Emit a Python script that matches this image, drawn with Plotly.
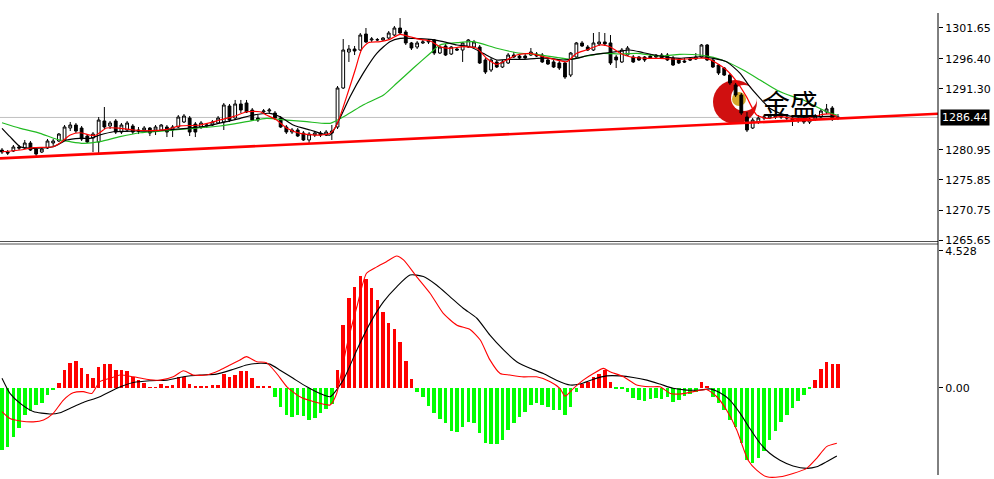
import plotly.graph_objects as go

# ---------------- data ----------------
N_BARS = 148
BARS = list(range(N_BARS))

OPEN = [1280.92, 1280.58, 1280.75, 1281.43, 1281.26, 1282.11, 1281.09, 1280.58, 1281.26, 1282.11,
        1282.45, 1282.62, 1284.65, 1285.16, 1284.65, 1283.29, 1282.95, 1282.28, 1285.84, 1284.99,
        1285.84, 1283.97, 1284.31, 1284.99, 1284.31, 1284.31, 1284.65, 1284.31, 1284.31, 1284.82,
        1284.31, 1284.82, 1285.67, 1286.34, 1285.33, 1284.82, 1284.99, 1285.16, 1285.50, 1285.67,
        1288.38, 1286.34, 1288.72, 1288.89, 1287.70, 1286.34, 1287.36, 1287.53, 1287.19, 1286.34,
        1284.82, 1283.97, 1284.31, 1283.80, 1282.62, 1283.46, 1283.80, 1283.46, 1283.80, 1284.82,
        1291.43, 1297.53, 1298.04, 1297.87, 1300.58, 1299.57, 1299.57, 1299.57, 1299.90, 1300.41,
        1301.60, 1300.92, 1299.06, 1298.38, 1299.06, 1299.23, 1299.57, 1297.36, 1298.55, 1297.19,
        1298.04, 1297.87, 1298.38, 1298.38, 1298.38, 1296.18, 1294.48, 1295.84, 1294.99, 1295.67,
        1297.02, 1296.85, 1296.85, 1297.02, 1297.19, 1297.02, 1296.18, 1295.84, 1295.67, 1295.67,
        1293.63, 1296.68, 1299.06, 1298.38, 1297.87, 1298.89, 1299.23, 1299.06, 1296.68, 1295.84,
        1297.02, 1296.68, 1296.68, 1296.68, 1296.85, 1297.02, 1297.02, 1297.02, 1296.51, 1296.18,
        1296.01, 1296.34, 1296.34, 1296.68, 1298.72, 1296.18, 1295.33, 1294.82, 1293.63, 1291.94,
        1290.24, 1286.51, 1284.65, 1285.67, 1286.34, 1286.34, 1286.51, 1286.51, 1286.51, 1286.34,
        1286.00, 1286.17, 1285.67, 1286.17, 1286.51, 1287.36, 1288.04, 1286.51]

CLOSE = [1280.58, 1280.41, 1281.43, 1281.26, 1282.11, 1280.92, 1280.24, 1281.09, 1282.45, 1282.45,
         1283.63, 1284.82, 1285.16, 1284.14, 1282.79, 1282.28, 1283.63, 1286.00, 1284.82, 1285.50,
         1283.97, 1285.16, 1285.50, 1283.97, 1284.14, 1284.65, 1283.80, 1284.82, 1285.16, 1283.97,
         1284.82, 1286.51, 1286.68, 1283.97, 1283.97, 1285.50, 1285.16, 1285.67, 1286.34, 1288.55,
         1286.00, 1288.72, 1287.70, 1287.36, 1286.00, 1286.00, 1287.53, 1287.70, 1286.34, 1284.82,
         1283.97, 1284.31, 1283.29, 1282.62, 1283.63, 1283.80, 1283.46, 1283.97, 1284.14, 1291.43,
         1297.87, 1298.04, 1297.70, 1300.41, 1299.23, 1299.73, 1299.62, 1299.90, 1300.75, 1301.60,
         1300.75, 1299.06, 1298.21, 1299.06, 1299.23, 1299.40, 1297.36, 1298.38, 1297.02, 1298.38,
         1297.87, 1299.06, 1299.57, 1299.23, 1295.67, 1294.14, 1296.18, 1294.99, 1295.84, 1297.02,
         1296.68, 1296.51, 1296.51, 1297.53, 1296.85, 1295.84, 1295.50, 1294.99, 1294.82, 1293.29,
         1297.36, 1299.06, 1298.55, 1297.87, 1299.06, 1299.23, 1298.89, 1295.67, 1296.18, 1297.87,
         1298.21, 1295.84, 1296.18, 1296.18, 1296.51, 1296.68, 1296.51, 1296.18, 1295.33, 1295.67,
         1295.84, 1296.18, 1296.68, 1298.72, 1296.18, 1294.99, 1293.97, 1293.63, 1292.28, 1290.24,
         1287.19, 1284.31, 1286.00, 1286.34, 1286.51, 1286.68, 1286.68, 1286.55, 1286.34, 1285.84,
         1286.17, 1285.67, 1286.17, 1286.68, 1287.53, 1287.87, 1286.17, 1286.44]

HIGH = [1281.26, 1280.92, 1281.77, 1281.77, 1282.62, 1282.45, 1281.43, 1281.43, 1282.79, 1282.79,
        1283.80, 1285.16, 1285.67, 1285.50, 1284.99, 1283.63, 1283.97, 1286.51, 1288.21, 1285.84,
        1286.17, 1285.50, 1285.84, 1285.33, 1284.82, 1284.99, 1284.82, 1285.16, 1285.33, 1285.16,
        1285.16, 1286.85, 1287.02, 1286.68, 1285.67, 1285.84, 1285.50, 1286.00, 1286.68, 1288.89,
        1288.72, 1289.40, 1289.40, 1289.40, 1288.04, 1286.85, 1287.87, 1288.04, 1287.53, 1286.68,
        1285.16, 1284.65, 1284.65, 1284.14, 1283.97, 1284.14, 1284.14, 1284.31, 1285.16, 1291.77,
        1299.73, 1298.72, 1298.55, 1300.75, 1301.60, 1300.07, 1299.90, 1300.07, 1301.09, 1301.94,
        1303.29, 1301.26, 1299.23, 1299.40, 1299.57, 1299.73, 1299.73, 1298.72, 1298.89, 1298.55,
        1298.21, 1299.23, 1299.73, 1299.57, 1298.72, 1296.51, 1296.51, 1296.18, 1296.18, 1297.36,
        1297.53, 1297.19, 1297.19, 1298.21, 1297.53, 1297.36, 1296.51, 1296.18, 1296.01, 1295.84,
        1297.53, 1299.23, 1299.40, 1298.72, 1300.75, 1300.92, 1300.75, 1300.41, 1297.02, 1298.21,
        1298.55, 1297.02, 1296.85, 1296.85, 1297.19, 1297.19, 1297.36, 1297.36, 1296.85, 1296.51,
        1296.51, 1296.68, 1297.36, 1298.89, 1298.89, 1296.51, 1295.50, 1294.99, 1293.97, 1292.28,
        1290.58, 1287.36, 1286.34, 1286.85, 1286.85, 1287.02, 1287.02, 1286.85, 1286.85, 1286.68,
        1286.51, 1286.51, 1286.51, 1287.02, 1287.87, 1288.72, 1288.38, 1287.02]

LOW = [1280.24, 1280.07, 1280.58, 1280.92, 1281.09, 1280.75, 1279.73, 1280.41, 1281.09, 1281.60,
       1282.28, 1282.45, 1284.14, 1283.80, 1282.45, 1282.11, 1280.58, 1280.24, 1284.48, 1284.48,
       1283.63, 1283.63, 1283.97, 1283.63, 1283.63, 1284.14, 1283.29, 1283.46, 1284.14, 1283.12,
       1283.12, 1284.65, 1285.50, 1283.29, 1283.12, 1284.48, 1284.65, 1284.99, 1285.33, 1284.31,
       1285.67, 1286.00, 1287.19, 1287.19, 1285.84, 1285.67, 1287.02, 1287.19, 1286.00, 1284.65,
       1283.63, 1283.63, 1283.12, 1282.45, 1282.11, 1283.12, 1283.12, 1283.29, 1282.62, 1284.48,
       1291.26, 1295.84, 1297.02, 1297.70, 1299.06, 1299.23, 1299.40, 1299.40, 1299.73, 1300.24,
       1300.58, 1298.72, 1297.87, 1298.04, 1298.89, 1298.89, 1297.02, 1297.19, 1296.85, 1297.02,
       1297.70, 1295.84, 1298.21, 1298.21, 1295.50, 1293.80, 1294.14, 1294.82, 1294.82, 1295.50,
       1296.51, 1296.18, 1296.34, 1296.85, 1296.68, 1295.67, 1295.33, 1294.82, 1294.48, 1292.96,
       1293.29, 1296.51, 1298.38, 1297.70, 1297.70, 1298.55, 1298.55, 1295.33, 1294.82, 1295.67,
       1296.85, 1295.67, 1296.01, 1295.84, 1296.34, 1296.51, 1296.34, 1296.01, 1295.16, 1295.50,
       1295.67, 1296.01, 1296.18, 1296.51, 1296.01, 1294.82, 1293.63, 1293.46, 1291.94, 1289.90,
       1286.85, 1283.97, 1284.48, 1285.33, 1286.00, 1286.17, 1286.17, 1286.17, 1286.00, 1284.99,
       1285.50, 1285.33, 1285.33, 1285.84, 1286.34, 1287.02, 1285.84, 1286.00]

# moving averages (bar position, price)
MA_FAST_X = [0, 3.2, 5.5, 9.0, 10.2, 12.0, 13.7, 15.5, 16.6, 18.4, 20.8, 23.1, 26.0, 29.0, 31.3, 34.8,
             38.3, 40.7, 43.0, 45.4, 46.5, 48.3, 50.1, 52.4, 55.9, 57.7, 58.85, 60.6, 62.1, 63.25, 64.4,
             66.5, 68.2, 70.0, 71.75, 73.5, 75.3, 77.0, 78.8, 81.1, 83.5, 85.2, 87.0, 88.75, 90.5, 92.85,
             95.2, 97.5, 99.3, 101.05, 102.8, 105.2, 106.9, 108.7, 110.4, 113.4, 115.7, 119.2, 122.15,
             123.9, 125.7, 127.4, 129.2, 130.9, 132.7, 134.5, 136.8, 139.1, 141.5, 143.8, 145.6, 146.8]
MA_FAST_Y = [1280.63, 1280.92, 1281.31, 1281.48, 1282.11, 1283.46, 1283.85, 1283.46, 1283.46, 1284.65,
             1284.60, 1284.31, 1284.19, 1284.43, 1285.00, 1285.16, 1286.00, 1286.57, 1287.41, 1287.41,
             1286.85, 1286.00, 1284.60, 1283.75, 1283.46, 1283.75, 1285.16, 1289.96, 1294.48, 1297.99,
             1299.11, 1299.28, 1299.68, 1300.53, 1300.12, 1299.68, 1299.40, 1298.43, 1298.16, 1298.43,
             1298.16, 1296.46, 1295.45, 1296.18, 1297.02, 1297.31, 1296.73, 1296.18, 1295.89, 1297.31,
             1297.87, 1298.72, 1298.43, 1297.31, 1296.73, 1296.46, 1296.46, 1296.29, 1296.46, 1296.46,
             1295.62, 1294.48, 1292.50, 1289.96, 1286.85, 1286.29, 1286.57, 1286.29, 1286.29, 1286.85,
             1287.02, 1286.57]

MA_MID_X = [0, 1.4, 3.2, 5.5, 9.0, 11.4, 13.7, 15.5, 17.2, 19.6, 23.1, 26.0, 29.0, 32.5, 36.0, 39.5,
            41.9, 44.2, 47.1, 48.9, 51.2, 54.2, 57.7, 59.4, 61.2, 63.5, 65.9, 68.2, 70.0, 72.3, 75.3,
            77.6, 80.0, 82.3, 84.6, 87.0, 89.3, 91.7, 94.0, 96.4, 98.7, 101.05, 103.4, 105.7, 108.1,
            110.4, 112.8, 115.7, 119.2, 122.7, 125.1, 127.4, 129.8, 131.5, 133.3, 135.0, 136.8, 139.1,
            141.5, 143.8, 146.8]
MA_MID_Y = [1284.60, 1283.18, 1281.48, 1281.21, 1281.48, 1282.62, 1282.90, 1282.90, 1283.46, 1284.02,
            1284.14, 1284.14, 1284.31, 1284.60, 1284.99, 1285.72, 1286.29, 1286.85, 1287.14, 1286.57,
            1285.16, 1284.31, 1283.46, 1286.29, 1289.96, 1293.92, 1297.31, 1299.28, 1299.85, 1299.85,
            1299.68, 1299.28, 1298.72, 1298.43, 1297.31, 1296.18, 1296.29, 1296.29, 1296.46, 1296.46,
            1296.18, 1296.46, 1297.02, 1297.31, 1297.58, 1297.87, 1297.41, 1296.85, 1296.46, 1296.73,
            1296.46, 1295.89, 1293.92, 1291.65, 1289.68, 1287.99, 1287.14, 1286.57, 1286.46, 1286.57,
            1286.68]

MA_SLOW_X = [0, 3.2, 6.7, 9.6, 12.0, 14.3, 17.2, 20.75, 24.3, 29.0, 33.6, 38.3, 43.0, 46.5, 50.1, 53.6,
             57.7, 60.6, 63.5, 67.1, 69.4, 72.3, 75.3, 77.0, 80.0, 82.9, 87.0, 90.5, 94.0, 97.5, 99.9,
             102.2, 105.7, 108.7, 111.6, 115.7, 119.2, 122.7, 125.1, 127.4, 130.35, 133.3, 136.2, 139.1,
             140.9, 143.2, 145.0, 146.8]
MA_SLOW_Y = [1285.55, 1284.60, 1283.75, 1282.74, 1282.33, 1282.06, 1282.33, 1283.18, 1283.85, 1284.19,
             1284.60, 1284.99, 1285.72, 1286.29, 1286.00, 1285.72, 1285.45, 1286.85, 1288.55, 1290.24,
             1292.23, 1294.77, 1297.31, 1298.72, 1299.11, 1299.28, 1298.16, 1297.41, 1297.14, 1296.63,
             1296.29, 1296.73, 1297.31, 1297.19, 1297.31, 1296.85, 1297.14, 1297.02, 1296.63, 1295.89,
             1294.48, 1292.79, 1291.10, 1289.96, 1289.40, 1288.26, 1287.41, 1286.85]

TREND_X = [-0.35, 164.6]
TREND_Y = [1279.51, 1287.07]
LAST_PRICE = 1286.44

PRICE_TICKS = [1301.65, 1296.40, 1291.30, 1280.95, 1275.85, 1270.75, 1265.65]
PRICE_TICK_TEXT = ["1301.65", "1296.40", "1291.30", "1280.95", "1275.85", "1270.75", "1265.65"]
MACD_TICKS = [4.528, 0.0]
MACD_TICK_TEXT = ["4.528", "0.00"]

HIST = [-2.06, -1.95, -1.64, -1.35, -0.91, -0.76, -0.57, -0.52, -0.24, -0.08,
        0.17, 0.58, 0.83, 0.89, 0.66, 0.45, 0.33, 0.69, 0.77, 0.80,
        0.58, 0.60, 0.55, 0.36, 0.25, 0.17, 0.02, 0.02, 0.12, 0.03,
        0.09, 0.34, 0.36, 0.12, 0.03, 0.03, 0.03, 0.09, 0.09, 0.45,
        0.36, 0.42, 0.56, 0.55, 0.33, 0.03, 0.03, 0.03,
        -0.32, -0.63, -0.90, -0.96, -0.90, -0.93, -1.07, -1.00, -0.85, -0.72,
        -0.55,
        0.58, 2.07, 2.96, 3.34, 3.70, 3.59, 3.31, 2.92, 2.52, 2.13, 1.93, 1.52, 0.88, 0.28,
        -0.13, -0.30, -0.60, -0.85, -1.02, -1.18, -1.42, -1.46, -1.29, -1.13,
        -1.18, -1.51, -1.84, -1.87, -1.87, -1.73, -1.40, -1.16, -0.96, -0.79,
        -0.57, -0.52, -0.57, -0.63, -0.74, -0.74, -0.90, -0.63, -0.13,
        0.11, 0.20, 0.34, 0.47, 0.58, 0.20,
        -0.05, -0.02, -0.13, -0.35, -0.41, -0.43, -0.39, -0.35,
        -0.39, -0.30, -0.46, -0.41, -0.28, -0.21, -0.13,
        0.20, 0.07,
        -0.30, -0.50, -0.75, -1.07, -1.30, -1.84, -2.40, -2.50, -2.34, -2.09,
        -1.73, -1.42, -1.13, -0.90, -0.68, -0.45, -0.25, -0.03,
        0.25, 0.61, 0.86, 0.78, 0.78]

DIF_X = [0, 1.4, 3.2, 5.5, 7.3, 9.0, 10.8, 12.5, 14.3, 15.8, 17.2, 19.0, 20.75, 23.1, 25.4, 27.8, 30.1,
         31.9, 33.6, 36.0, 38.3, 40.1, 41.85, 43.0, 44.8, 46.5, 48.3, 50.1, 52.4, 54.75, 57.7, 58.85,
         60.6, 62.4, 64.1, 65.9, 67.6, 69.4, 70.6, 72.9, 75.3, 77.6, 80.0, 82.3, 84.1, 85.8, 87.6, 89.3,
         91.7, 94.0, 96.4, 98.1, 99.0, 100.5, 102.2, 104.0, 105.75, 106.9, 109.3, 111.6, 114.0, 115.7,
         117.5, 119.2, 121.6, 123.9, 125.7, 127.4, 129.2, 130.35, 131.2, 132.7, 134.5, 136.8, 139.1,
         141.5, 143.25, 145.0, 146.8]
DIF_Y = [-0.79, -1.02, -1.10, -1.13, -1.07, -0.85, -0.41, -0.17, -0.13, -0.19, 0.20, 0.31, 0.42, 0.36,
         0.28, 0.25, 0.36, 0.56, 0.42, 0.42, 0.58, 0.75, 0.92, 1.03, 0.86, 0.83, 0.47, 0.03, -0.30, -0.46,
         -0.57, -0.19, 1.36, 2.68, 3.79, 4.00, 4.17, 4.36, 4.23, 3.68, 3.12, 2.46, 2.07, 1.93, 1.58, 0.92,
         0.47, 0.42, 0.36, 0.36, 0.20, -0.02, -0.28, -0.02, 0.25, 0.47, 0.64, 0.53, 0.36, 0.09, 0.03, 0.03,
         -0.19, -0.21, -0.13, -0.06, -0.30, -0.74, -1.40, -2.00, -2.40, -2.73, -2.95, -2.95, -2.84, -2.67,
         -2.34, -1.95, -1.84]

DEA_X = [0, 1.4, 3.2, 5.5, 8.4, 10.2, 12.0, 14.3, 17.2, 20.2, 23.1, 26.0, 29.0, 31.9, 34.8, 37.7, 40.7,
         43.0, 45.4, 47.1, 48.9, 51.2, 53.6, 55.9, 57.7, 60.0, 62.4, 64.7, 67.1, 69.4, 71.75, 74.1, 76.4,
         78.8, 81.1, 83.5, 85.8, 88.2, 90.5, 92.85, 95.2, 97.5, 99.9, 101.6, 104.0, 106.3, 108.7, 111.0,
         113.4, 115.7, 118.0, 120.4, 122.7, 124.5, 126.25, 128.0, 129.8, 131.5, 133.3, 135.0, 136.8,
         139.1, 141.5, 143.25, 145.0, 146.8]
DEA_Y = [0.31, -0.19, -0.52, -0.79, -0.87, -0.83, -0.68, -0.49, -0.30, -0.02, 0.17, 0.23, 0.25, 0.36,
         0.42, 0.45, 0.61, 0.75, 0.81, 0.78, 0.58, 0.31, 0.03, -0.19, -0.30, 0.25, 1.25, 2.13, 2.85, 3.34,
         3.73, 3.68, 3.40, 3.01, 2.63, 2.30, 1.74, 1.25, 0.86, 0.64, 0.47, 0.25, 0.09, 0.12, 0.28, 0.39,
         0.39, 0.34, 0.25, 0.12, -0.02, -0.08, -0.08, -0.04, -0.17, -0.41, -0.85, -1.35, -1.84, -2.17,
         -2.40, -2.59, -2.67, -2.62, -2.45, -2.26]

# ---------------- layout constants ----------------
W, H = 994, 479
PLOT_W = 938  # pixel width of the plotting area


def px(xp):
    return xp / PLOT_W


def py(yp):
    return 1 - yp / H


X_RANGE = [-0.352, 164.59]
TOP_RANGE = [1265.5, 1306.345]
BOT_RANGE = [-3.023, 4.758]

fig = go.Figure()

fig.add_trace(go.Candlestick(
    x=BARS, open=OPEN, high=HIGH, low=LOW, close=CLOSE,
    increasing=dict(line=dict(color="black", width=1), fillcolor="white"),
    decreasing=dict(line=dict(color="black", width=1), fillcolor="black"),
    whiskerwidth=0, xaxis="x", yaxis="y", hoverinfo="skip",
))

for xs, ys, col in [(MA_SLOW_X, MA_SLOW_Y, "#22bb22"),
                    (MA_MID_X, MA_MID_Y, "#000000"),
                    (MA_FAST_X, MA_FAST_Y, "#ff0000")]:
    fig.add_trace(go.Scatter(x=xs, y=ys, mode="lines",
                             line=dict(color=col, width=1.2, shape="spline", smoothing=0.6),
                             xaxis="x", yaxis="y", hoverinfo="skip"))

fig.add_trace(go.Scatter(x=TREND_X, y=TREND_Y, mode="lines",
                         line=dict(color="#ff0000", width=2.6),
                         xaxis="x", yaxis="y", hoverinfo="skip"))

hist_colors = ["#ff0000" if v >= 0 else "#00ff00" for v in HIST]
fig.add_trace(go.Bar(x=BARS, y=HIST, marker=dict(color=hist_colors, line=dict(width=0)),
                     width=0.62, xaxis="x2", yaxis="y2", hoverinfo="skip"))

fig.add_trace(go.Scatter(x=DEA_X, y=DEA_Y, mode="lines",
                         line=dict(color="#000000", width=1.1, shape="spline", smoothing=0.6),
                         xaxis="x2", yaxis="y2", hoverinfo="skip"))
fig.add_trace(go.Scatter(x=DIF_X, y=DIF_Y, mode="lines",
                         line=dict(color="#ff0000", width=1.1, shape="spline", smoothing=0.6),
                         xaxis="x2", yaxis="y2", hoverinfo="skip"))

axis_font = dict(family="DejaVu Sans, Verdana, sans-serif", size=11, color="black")

fig.update_layout(
    width=W, height=H,
    margin=dict(l=0, r=W - PLOT_W, t=0, b=0, pad=0, autoexpand=False),
    paper_bgcolor="white", plot_bgcolor="white",
    showlegend=False, hovermode=False, bargap=0,
    xaxis=dict(domain=[0, 1], range=X_RANGE, visible=False, anchor="y", automargin=False,
               rangeslider=dict(visible=False)),
    xaxis2=dict(domain=[0, 1], range=X_RANGE, visible=False, anchor="y2", matches="x",
                automargin=False),
    yaxis=dict(domain=[py(241), 1], range=TOP_RANGE, side="right", anchor="x", automargin=False,
               tickmode="array", tickvals=PRICE_TICKS, ticktext=PRICE_TICK_TEXT,
               ticks="outside", ticklen=4, tickcolor="black", tickfont=axis_font,
               showgrid=False, zeroline=False, showline=False),
    yaxis2=dict(domain=[0, py(244)], range=BOT_RANGE, side="right", anchor="x2", automargin=False,
                tickmode="array", tickvals=MACD_TICKS, ticktext=MACD_TICK_TEXT,
                ticks="outside", ticklen=4, tickcolor="black", tickfont=axis_font,
                showgrid=False, zeroline=False, showline=False),
)

shapes = [
    # current price line
    dict(type="line", xref="paper", yref="y", x0=0, x1=1, y0=LAST_PRICE, y1=LAST_PRICE,
         line=dict(color="#c0c0c0", width=1), layer="below"),
    # separator between panes
    dict(type="line", xref="paper", yref="paper", x0=0, x1=1, y0=py(241.5), y1=py(241.5),
         line=dict(color="#505050", width=1)),
    dict(type="line", xref="paper", yref="paper", x0=0, x1=1, y0=py(244), y1=py(244),
         line=dict(color="#505050", width=1)),
    # right axis line
    dict(type="line", xref="paper", yref="paper", x0=1, x1=1, y0=py(13), y1=py(475),
         line=dict(color="black", width=1)),
    # logo: red crescent + gold ball
    dict(type="circle", xref="paper", yref="paper", x0=px(713), x1=px(757), y0=py(124), y1=py(80),
         fillcolor="#d01010", line=dict(width=0), layer="below"),
    dict(type="circle", xref="paper", yref="paper", x0=px(731), x1=px(757), y0=py(111), y1=py(85),
         fillcolor="white", line=dict(width=0), layer="below"),
    dict(type="circle", xref="paper", yref="paper", x0=px(732), x1=px(746), y0=py(106), y1=py(92),
         fillcolor="#d4a82a", line=dict(width=0), layer="below"),
]
fig.update_layout(shapes=shapes)

fig.add_annotation(xref="paper", yref="y", x=1, y=LAST_PRICE, xanchor="left", yanchor="middle",
                   xshift=2, text="1286.44", showarrow=False, bgcolor="black", borderpad=1,
                   font=dict(family="DejaVu Sans, Verdana, sans-serif", size=11, color="white"))
fig.add_annotation(xref="paper", yref="paper", x=px(790), y=py(103), xanchor="center",
                   yanchor="middle", text="金盛", showarrow=False,
                   font=dict(family="Noto Sans CJK SC", size=28, color="black"))

fig.write_html("out.html", config={"displayModeBar": False},
               post_script="document.body.style.margin='0';document.body.style.overflow='hidden';")
